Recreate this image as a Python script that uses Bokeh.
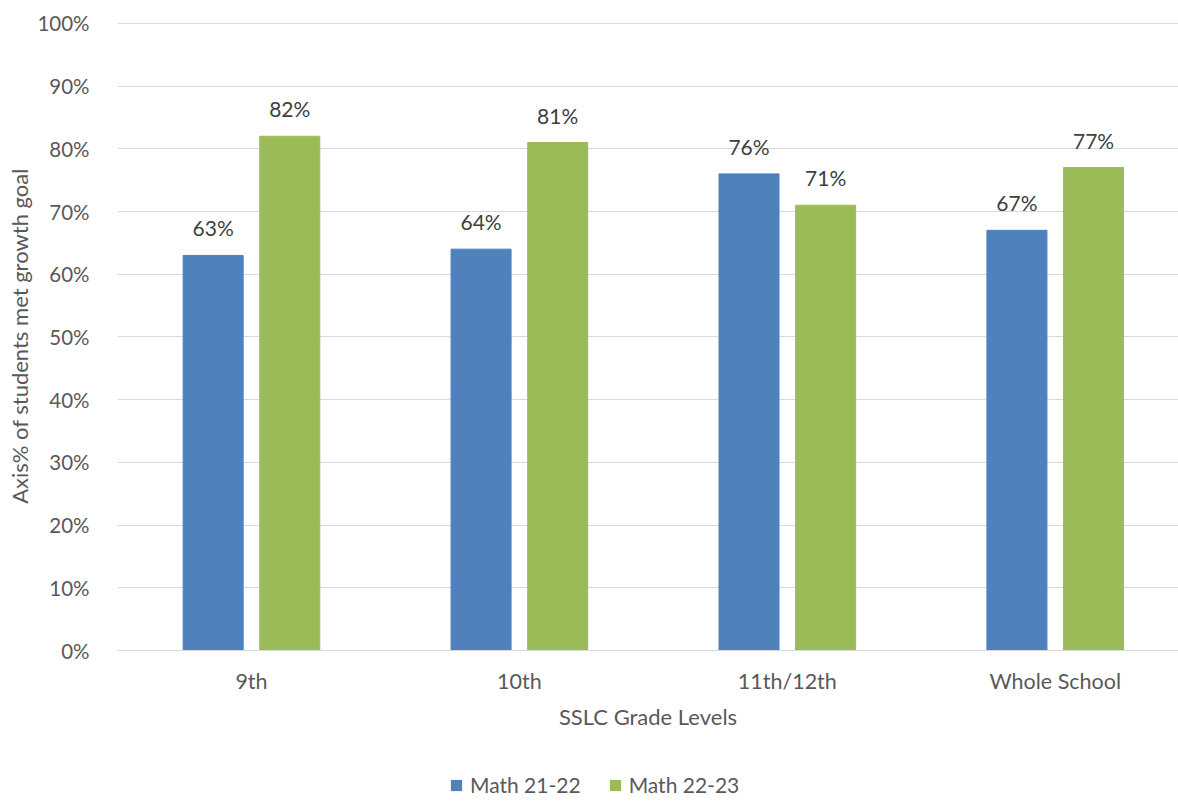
from bokeh.plotting import figure
from bokeh.layouts import column
from bokeh.models import ColumnDataSource, Range1d, FixedTicker, PrintfTickFormatter, LabelSet
from bokeh.core.properties import value
from bokeh.embed import file_html
from bokeh.resources import INLINE

categories = ["9th", "10th", "11th/12th", "Whole School"]
series_names = ["Math 21-22", "Math 22-23"]
math_21_22 = [63, 64, 76, 67]
math_22_23 = [82, 81, 71, 77]
y_ticks = [0, 10, 20, 30, 40, 50, 60, 70, 80, 90, 100]

FONT = "Lato"
BLUE = "#4F81BD"
GREEN = "#9BBB59"
TXT = "#595959"
LBL = "#404040"
TITLE_FS = "22px"

offset = 0.143
bar_w = 0.224
idx = list(range(len(categories)))

src1 = ColumnDataSource(dict(x=[i - offset for i in idx], top=math_21_22,
                             lab=[f"{v}%" for v in math_21_22]))
src2 = ColumnDataSource(dict(x=[i + offset for i in idx], top=math_22_23,
                             lab=[f"{v}%" for v in math_22_23]))

p = figure(width=1178, height=770, output_backend="svg", toolbar_location=None,
           x_range=Range1d(-0.5, 3.46), y_range=Range1d(0, 100.3),
           min_border_left=117, min_border_right=0, min_border_top=21, min_border_bottom=120)
p.outline_line_color = None
p.background_fill_color = "white"
p.border_fill_color = "white"

p.vbar(x="x", top="top", width=bar_w, source=src1, color=BLUE)
p.vbar(x="x", top="top", width=bar_w, source=src2, color=GREEN)

for s in (src1, src2):
    p.add_layout(LabelSet(x="x", y="top", text="lab", source=s, text_align="center",
                          text_baseline="alphabetic", y_offset=19, text_font=value(FONT),
                          text_font_size=value("21px"), text_color=LBL))

# x axis
p.xaxis.ticker = FixedTicker(ticks=idx)
p.xaxis.major_label_overrides = {i: c for i, c in zip(idx, categories)}
p.xaxis.major_tick_line_color = None
p.xaxis.minor_tick_line_color = None
p.xaxis.axis_line_color = "#D9D9D9"
p.xaxis.axis_line_width = 1
p.xaxis.major_label_standoff = 11
p.xaxis.major_label_text_font = FONT
p.xaxis.major_label_text_font_size = "21.5px"
p.xaxis.major_label_text_color = TXT
p.xaxis.axis_label = "SSLC Grade Levels"
p.xaxis.axis_label_text_font = FONT
p.xaxis.axis_label_text_font_size = TITLE_FS
p.xaxis.axis_label_text_font_style = "normal"
p.xaxis.axis_label_text_color = TXT
p.xaxis.axis_label_standoff = 6
p.xgrid.grid_line_color = None

# y axis
p.yaxis.ticker = FixedTicker(ticks=y_ticks)
p.yaxis.formatter = PrintfTickFormatter(format="%d%%")
p.yaxis.major_tick_line_color = None
p.yaxis.minor_tick_line_color = None
p.yaxis.axis_line_color = None
p.yaxis.major_label_standoff = 22
p.yaxis.major_label_text_font = FONT
p.yaxis.major_label_text_font_size = "20.5px"
p.yaxis.major_label_text_color = TXT
p.yaxis.axis_label = "Axis% of students met growth goal"
p.yaxis.axis_label_text_font = FONT
p.yaxis.axis_label_text_font_size = TITLE_FS
p.yaxis.axis_label_text_font_style = "normal"
p.yaxis.axis_label_text_color = TXT
p.yaxis.axis_label_standoff = 1
p.ygrid.grid_line_color = "#D9D9D9"
p.ygrid.grid_line_width = 1

# legend strip underneath (swatch renderers have zero height, so only the legend shows)
lg = figure(width=1178, height=33, output_backend="svg", toolbar_location=None,
            x_range=Range1d(0, 1), y_range=Range1d(0, 1),
            x_axis_type=None, y_axis_type=None, min_border=0)
lg.outline_line_color = None
lg.grid.grid_line_color = None
lg.vbar(x=[0.5], top=[0], bottom=[0], width=0.1, fill_color=BLUE, line_color=None,
        legend_label=series_names[0])
lg.vbar(x=[0.5], top=[0], bottom=[0], width=0.1, fill_color=GREEN, line_color=None,
        legend_label=series_names[1])
leg = lg.legend[0]
leg.orientation = "horizontal"
leg.location = (332, 6)
leg.padding = 0
leg.margin = 0
leg.spacing = 27
leg.border_line_color = None
leg.background_fill_alpha = 0
leg.glyph_width = 14
leg.glyph_height = 14
leg.label_height = 14
leg.label_standoff = 7
leg.label_text_font = FONT
leg.label_text_font_size = "21px"
leg.label_text_color = TXT
leg.label_text_baseline = "middle"

layout = column(p, lg, spacing=0)
open("out.html", "w").write(file_html(layout, INLINE))
